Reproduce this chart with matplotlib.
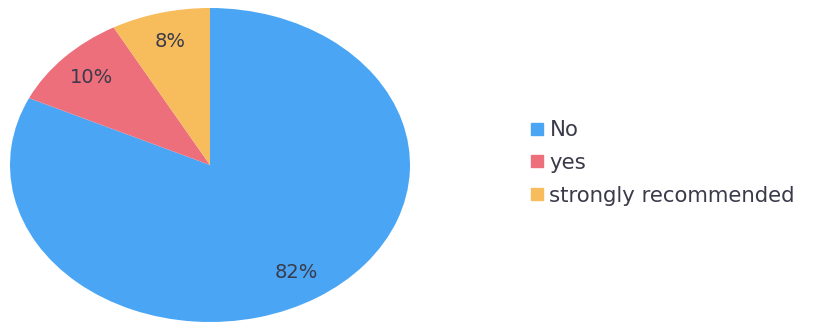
import numpy as np
import matplotlib.pyplot as plt
from matplotlib.lines import Line2D

labels = ["No", "yes", "strongly recommended"]
shares = [82, 10, 8]
colors = ["#4aa6f4", "#ee6f7c", "#f7bd5c"]

fig = plt.figure(figsize=(8.17, 3.23), dpi=100)
ax = fig.add_axes([10/817, 1/323, 400/817, 314/323])

wedges, texts, autotexts = ax.pie(shares, colors=colors, startangle=90, counterclock=False,
                                  autopct="%d%%", pctdistance=0.81,
                                  textprops=dict(color="#3a3a4a", fontsize=14, family="DejaVu Sans"))
ax.set_aspect("auto")
ax.set_xlim(-1, 1)
ax.set_ylim(-1, 1)

handles = [Line2D([], [], marker="s", linestyle="none", markersize=8.5, color=c) for c in colors]
leg = fig.legend(handles, labels, loc="upper left", bbox_to_anchor=(508/817, 1 - 101/323),
                 frameon=False, handletextpad=0.15, labelspacing=0.6, handlelength=0.9,
                 prop=dict(family="DejaVu Sans", size=15.3))
for t in leg.get_texts():
    t.set_color("#3a3a4a")

fig.savefig("out.png", dpi=100)
